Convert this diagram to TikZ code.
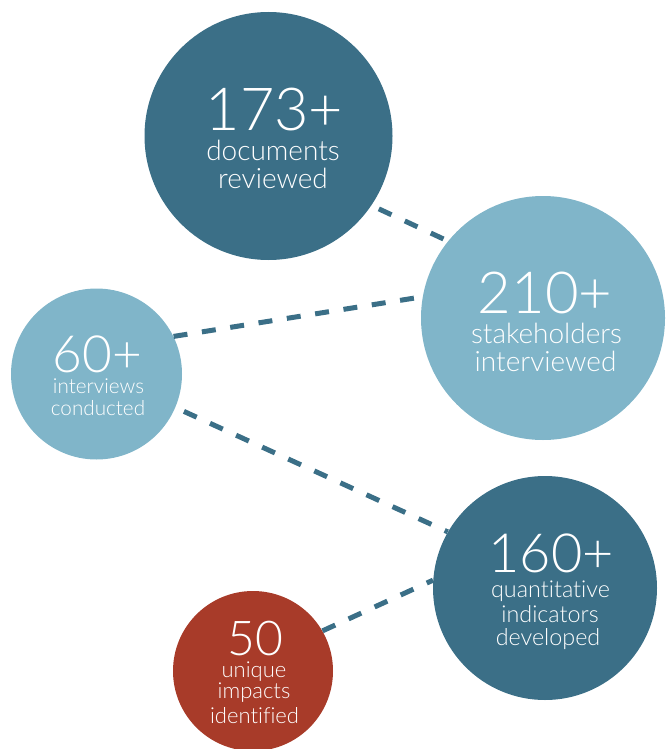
\documentclass[tikz,border=0pt]{standalone}
\usepackage{fontspec}
\setmainfont{Lato}[UprightFont={* Light}, Ligatures=NoCommon]
\definecolor{darkteal}{HTML}{3B6F87}
\definecolor{lightteal}{HTML}{80B5C9}
\definecolor{rustred}{HTML}{A83B29}
\begin{document}
\begin{tikzpicture}[x=0.75pt,y=-0.75pt,
bubble/.style={circle, inner sep=0pt},
label/.style={white, anchor=base, inner sep=0pt},
link/.style={darkteal, line width=3.75pt, dash pattern=on 10.5pt off 11pt}]
\useasboundingbox (0,0) rectangle (665,749);
%\node {\includegraphics{ref.png}};
\node[bubble, fill=darkteal, minimum size=186pt] (c173) at (268.5,136) {};
\node[bubble, fill=lightteal, minimum size=183pt] (c210) at (543,318) {};
\node[bubble, fill=lightteal, minimum size=128.25pt] (c60) at (96.5,374) {};
\node[bubble, fill=darkteal, minimum size=168pt] (c160) at (545,588) {};
\node[bubble, fill=rustred, minimum size=120pt] (c50) at (253,671) {};
\draw[link, shorten <=6pt] (c173.-34) -- (c210.141);
\draw[link] (c60.26) -- (c210.170.6);
\draw[link, shorten <=7pt] (c60.-23.7) -- (c160.150);
\draw[link] (c50.30.7) -- (c160.176);
\node[label, font=\fontsize{44.5}{44.5}\selectfont] (n173) at (274.5,130) {173+};
\node[label, font=\fontsize{21}{21}\selectfont] (t173a) at (273,160) {documents};
\node[label, font=\fontsize{21}{21}\selectfont] (t173b) at (273,188) {reviewed};
\node[label, font=\fontsize{43.5}{43.5}\selectfont] (n210) at (545,313) {210+};
\node[label, font=\fontsize{21}{21}\selectfont] (t210a) at (546.5,343) {stakeholders};
\node[label, font=\fontsize{21}{21}\selectfont] (t210b) at (545.5,371) {interviewed};
\node[label, font=\fontsize{38.5}{38.5}\selectfont] (n60) at (97.5,372) {60+};
\node[label, font=\fontsize{15.5}{15.5}\selectfont] (t60a) at (98.5,393) {interviews};
\node[label, font=\fontsize{15.5}{15.5}\selectfont] (t60b) at (98,415) {conducted};
\node[label, font=\fontsize{40.5}{40.5}\selectfont] (n160) at (551,572) {160+};
\node[label, font=\fontsize{17.5}{17.5}\selectfont] (t160a) at (550.5,597) {quantitative};
\node[label, font=\fontsize{17.5}{17.5}\selectfont] (t160b) at (550,622) {indicators};
\node[label, font=\fontsize{17.5}{17.5}\selectfont] (t160c) at (548,645) {developed};
\node[label, font=\fontsize{36}{36}\selectfont] (n50) at (255,655) {50};
\node[label, font=\fontsize{16.5}{16.5}\selectfont] (t50a) at (254,677) {unique};
\node[label, font=\fontsize{16.5}{16.5}\selectfont] (t50b) at (254,698) {impacts};
\node[label, font=\fontsize{16.5}{16.5}\selectfont] (t50c) at (254.5,723) {identified};
\end{tikzpicture}
\end{document}
